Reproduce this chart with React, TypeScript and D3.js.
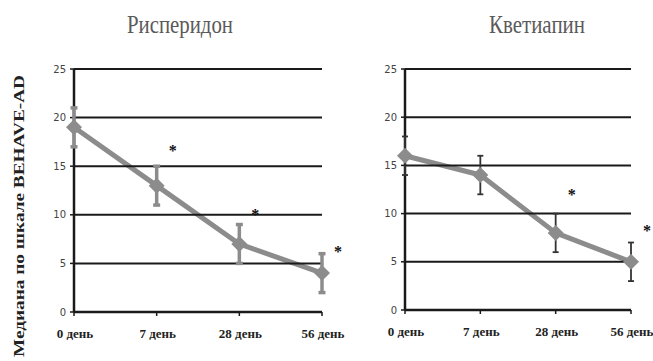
import React from "react";
import * as d3 from "d3";

const days = ["0 день", "7 день", "28 день", "56 день"];
const yTicks = [0, 5, 10, 15, 20, 25];

const rispTitle = "Рисперидон";
const rispMedian = [19, 13, 7, 4];
const rispLow = [17, 11, 5, 2];
const rispHigh = [21, 15, 9, 6];
const rispStars = [null, 17, 10.4, 6.6];

const quetTitle = "Кветиапин";
const quetMedian = [16, 14, 8, 5];
const quetLow = [14, 12, 6, 3];
const quetHigh = [18, 16, 10, 7];
const quetStars = [null, null, 12.3, 8.6];

const yTitle = "Медиана по шкале BEHAVE-AD";

const SERIF = "Liberation Serif";

type PanelProps = {
  title: string;
  titleX: number;
  titleLen: number;
  median: number[];
  low: number[];
  high: number[];
  stars: (number | null)[];
  x0: number;
  x1: number;
  yTop: number;
  yBottom: number;
  errColor: string;
  errWidth: number;
  capW: number;
};

function Panel(p: PanelProps) {
  const x = d3.scalePoint<string>().domain(days).range([p.x0, p.x1]);
  const y = d3.scaleLinear().domain([0, 25]).range([p.yBottom, p.yTop]);
  const line = d3
    .line<number>()
    .x((_, i) => x(days[i]) as number)
    .y((d) => y(d));
  const dm = 8;
  return (
    <g>
      <text
        x={p.titleX}
        y={33}
        textAnchor="middle"
        fontFamily={SERIF}
        fontSize={26}
        fill="#5a5a5a"
        textLength={p.titleLen}
        lengthAdjust="spacingAndGlyphs"
      >
        {p.title}
      </text>
      <path d={line(p.median) || ""} fill="none" stroke="#8c8c8c" strokeWidth={5} strokeLinejoin="round" />
      {yTicks.filter((t) => t > 0).map((t) => (
        <line key={t} x1={p.x0} x2={p.x1} y1={y(t)} y2={y(t)} stroke="#1a1a1a" strokeWidth={2} />
      ))}
      <line x1={p.x0} x2={p.x0} y1={p.yTop} y2={p.yBottom} stroke="#1a1a1a" strokeWidth={2.5} />
      <line x1={p.x0} x2={p.x1} y1={p.yBottom} y2={p.yBottom} stroke="#1a1a1a" strokeWidth={2.5} />
      {yTicks.map((t) => (
        <g key={t}>
          <line x1={p.x0 - 4} x2={p.x0} y1={y(t)} y2={y(t)} stroke="#1a1a1a" strokeWidth={1.5} />
          <text
            x={p.x0 - 8}
            y={y(t)}
            dy="0.35em"
            textAnchor="end"
            fontFamily="DejaVu Sans"
            fontSize={10}
            fill="#444"
          >
            {t}
          </text>
        </g>
      ))}
      {days.map((d) => (
        <g key={d}>
          <line x1={x(d)} x2={x(d)} y1={p.yBottom} y2={p.yBottom + 4} stroke="#1a1a1a" strokeWidth={1.5} />
          <text
            x={(x(d) as number) + 1}
            y={p.yBottom + 26}
            textAnchor="middle"
            fontFamily={SERIF}
            fontWeight="bold"
            fontSize={13}
            fill="#222"
          >
            {d}
          </text>
        </g>
      ))}
      {days.map((d, i) => {
        const cx = x(d) as number;
        return (
          <g key={"e" + d} stroke={p.errColor} strokeWidth={p.errWidth}>
            <line x1={cx} x2={cx} y1={y(p.low[i])} y2={y(p.high[i])} />
            <line x1={cx - p.capW / 2} x2={cx + p.capW / 2} y1={y(p.low[i])} y2={y(p.low[i])} />
            <line x1={cx - p.capW / 2} x2={cx + p.capW / 2} y1={y(p.high[i])} y2={y(p.high[i])} />
          </g>
        );
      })}
      {days.map((d, i) => {
        const cx = x(d) as number;
        const cy = y(p.median[i]);
        return (
          <path
            key={"m" + d}
            d={`M${cx},${cy - dm}L${cx + dm},${cy}L${cx},${cy + dm}L${cx - dm},${cy}Z`}
            fill="#8c8c8c"
          />
        );
      })}
      {days.map((d, i) =>
        p.stars[i] == null ? null : (
          <text
            key={"s" + d}
            x={(x(d) as number) + 16}
            y={y(p.stars[i] as number)}
            dy="0.55em"
            textAnchor="middle"
            fontFamily={SERIF}
            fontWeight="bold"
            fontSize={16}
            fill="#111"
          >
            *
          </text>
        )
      )}
    </g>
  );
}

export default function App() {
  return (
    <svg width={653} height={361} style={{ position: "absolute", left: 0, top: 0, background: "#fff" }}>
      <rect width={653} height={361} fill="#fff" />
      <text
        transform="translate(24,216) rotate(-90)"
        textAnchor="middle"
        fontFamily={SERIF}
        fontWeight="bold"
        fontSize={15}
        fill="#222"
        textLength={282}
        lengthAdjust="spacingAndGlyphs"
      >
        {yTitle}
      </text>
      <Panel
        title={rispTitle}
        titleX={180}
        titleLen={106}
        median={rispMedian}
        low={rispLow}
        high={rispHigh}
        stars={rispStars}
        x0={74}
        x1={322}
        yTop={69}
        yBottom={312}
        errColor="#8c8c8c"
        errWidth={3.5}
        capW={7}
      />
      <Panel
        title={quetTitle}
        titleX={537}
        titleLen={96}
        median={quetMedian}
        low={quetLow}
        high={quetHigh}
        stars={quetStars}
        x0={405}
        x1={631}
        yTop={69}
        yBottom={310}
        errColor="#333"
        errWidth={1.8}
        capW={6}
      />
    </svg>
  );
}
